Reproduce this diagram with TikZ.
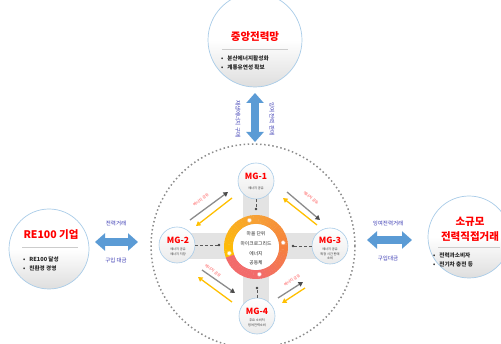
\documentclass[tikz,border=0pt]{standalone}
\usepackage{fontspec}
\setmainfont{Noto Sans CJK KR}
\usetikzlibrary{arrows.meta}
\definecolor{bblue}{HTML}{5B9BD5}
\definecolor{cborder}{HTML}{A9CCE8}
\definecolor{tred}{HTML}{FF0000}
\definecolor{lblue}{HTML}{3C3CB4}
\definecolor{ryel}{HTML}{FFC000}
\definecolor{rorg}{HTML}{F7A035}
\definecolor{rored}{HTML}{F5803E}
\definecolor{rsal}{HTML}{F26B6B}
\definecolor{bandc}{HTML}{E3E3E3}
\definecolor{garrow}{HTML}{8C8C8C}
\definecolor{yarrow}{HTML}{FFC000}
\definecolor{lred}{HTML}{FF4B4B}
\begin{document}
\begin{tikzpicture}[x=1pt,y=1pt,
  bigcirc/.style={circle, draw=cborder, line width=0.7pt, top color=white, bottom color=black!13, middle color=white, minimum size=#1, inner sep=0pt},
  mgc/.style={circle, draw=cborder, line width=0.6pt, top color=white, bottom color=black!8, minimum size=36pt, inner sep=0pt},
  ttl/.style={text=tred, font=\fontsize{10.5}{14.5}\selectfont\bfseries, inner sep=0pt, align=center},
  bul/.style={font=\fontsize{5.6}{9}\selectfont\bfseries, text=black!85, align=left, inner sep=0pt, anchor=west},
  albl/.style={text=lblue, font=\fontsize{5.5}{6.5}\selectfont, inner sep=0pt},
  mgt/.style={text=tred, font=\fontsize{8.5}{10}\selectfont\bfseries, inner sep=0pt},
  mgs/.style={font=\fontsize{3.2}{4.4}\selectfont, text=black!80, align=center, inner sep=0pt},
  elbl/.style={text=lred, font=\fontsize{3.8}{4.5}\selectfont, inner sep=0pt},
  bigarr/.style={draw=bblue, line width=8pt, {Triangle[width=17pt,length=10pt]}-{Triangle[width=17pt,length=10pt]}},
  garr/.style={draw=garrow, line width=1.3pt, -{Triangle[width=5pt,length=4.5pt,color=black!70]}},
  yarr/.style={draw=yarrow, line width=1.3pt, -{Triangle[width=5pt,length=4.5pt]}},
  sep/.style={draw=black!20, line width=0.4pt},
  conn/.style={draw=black!65, densely dashed, line width=0.4pt},
  cdot/.style={fill=black!75}
]
\useasboundingbox (0,0) rectangle (501,343);
\fill[white] (0,0) rectangle (501,343);

% big dotted circle
\draw[draw=black!45, line width=1.5pt, dash pattern=on 1.5pt off 2.6pt] (253,97) circle (102);

% gray cross bands
\fill[bandc] (177,84) rectangle (330,110);
\fill[bandc] (243,27) rectangle (269,162);

% outer circles
\node[bigcirc=94pt] (grid) at (255,303) {};
\node[ttl] (gridt) at (255,306) {중앙전력망};
\draw[sep] (222,294) -- (288,294);
\node[bul] (gridb) at (221,280.5) {•\hspace{4pt}분산에너지활성화\\•\hspace{4pt}계통유연성 확보};

\node[bigcirc=80pt] (re) at (49,94) {};
\node[ttl] (ret) at (51,108) {RE100 기업};
\draw[sep] (22,96) -- (78,96);
\node[bul] (reb) at (23,79) {•\hspace{4pt}RE100 달성\\•\hspace{4pt}친환경 경영};

\node[bigcirc=82pt] (sm) at (469,106) {};
\node[ttl] (smt) at (470,113.5) {소규모\\전력직접거래};
\draw[sep] (438,96) -- (500,96);
\node[bul] (smb) at (433,83) {•\hspace{4pt}전력과소비자\\•\hspace{4pt}전기차 충전 등};

% blue double arrows
\coordinate (va) at (255,250);
\coordinate (vb) at (255,201);
\draw[bigarr] (va) -- (vb);
\node[albl, rotate=-90] (vl) at (238,224) {재생에너지 구매};
\node[albl, rotate=-90] (vr) at (272,224) {잉여 전력 판매};

\coordinate (la) at (95,101);
\coordinate (lb) at (138,101);
\draw[bigarr] (la) -- (lb);
\node[albl] (ll1) at (116,120) {전력거래};
\node[albl] (ll2) at (116,83) {구입 대금};

\coordinate (ra) at (367,103);
\coordinate (rb) at (412,103);
\draw[bigarr] (ra) -- (rb);
\node[albl] (rl1) at (388,120) {잉여전력거래};
\node[albl] (rl2) at (388,85) {구입대금};

% ring
\begin{scope}[shift={(256,96)}]
\foreach \a [evaluate=\a as \p using {int((200-\a)/105*100)}] in {200,195,...,95}
  \fill[rorg!\p!ryel] (\a:32) arc[start angle=\a, end angle=\a-5.6, radius=32] -- (\a-5.6:23) arc[start angle=\a-5.6, end angle=\a, radius=23] -- cycle;
\foreach \a [evaluate=\a as \p using {int((90-\a)/90*100)}] in {90,85,...,5}
  \fill[rored!\p!rorg] (\a:32) arc[start angle=\a, end angle=\a-5.6, radius=32] -- (\a-5.6:23) arc[start angle=\a-5.6, end angle=\a, radius=23] -- cycle;
\foreach \a [evaluate=\a as \p using {int(min(100,(0-\a)/80*100))}] in {0,-5,...,-155}
  \fill[rsal!\p!rored] (\a:32) arc[start angle=\a, end angle=\a-5.6, radius=32] -- (\a-5.6:23) arc[start angle=\a-5.6, end angle=\a, radius=23] -- cycle;
\foreach \a/\c in {104/rorg, 9/rored, 193/ryel, -83/rsal}
  \filldraw[fill=white, draw=\c!70!white, line width=0.5pt] (\a:27.5) circle (2.1);
\end{scope}
\node[circle, fill=white, minimum size=46pt, inner sep=0pt] (ring) at (256,96) {};
\node[font=\fontsize{4.8}{9.6}\selectfont, text=black!85, align=center, inner sep=0pt] (ringt) at (256,94.5) {마을 단위\\마이크로그리드\\에너지\\공동체};

% MG nodes
\node[mgc] (mg1) at (256,162) {};
\node[mgt] (mg1t) at (256,167) {MG-1};
\node[mgs] (mg1s) at (256,155) {에너지 공유};

\node[mgc] (mg2) at (177,98) {};
\node[mgt] (mg2t) at (178,103) {MG-2};
\node[mgs] (mg2s) at (178,91) {에너지 공유\\에너지 저장};

\node[mgc] (mg3) at (330,97) {};
\node[mgt] (mg3t) at (330,103) {MG-3};
\node[mgs] (mg3s) at (330,89) {에너지 공유\\특정 시간 판매\\소비};

\node[mgc] (mg4) at (257,27) {};
\node[mgt] (mg4t) at (257,32) {MG-4};
\node[mgs] (mg4s) at (257,20) {주요 소비처\\잉여전력소비};

% dashed connectors with dots
\coordinate (d1) at (256,134);
\coordinate (d2) at (219,98);
\coordinate (d3) at (293,97);
\coordinate (d4) at (257,55);
\draw[conn] (mg1) -- (d1);
\draw[conn] (mg2) -- (d2);
\draw[conn] (mg3) -- (d3);
\draw[conn] (mg4) -- (d4);
\foreach \d in {d1,d2,d3,d4} \fill[cdot] (\d) circle (1.3);

% diagonal arrows
\coordinate (g1a) at (190,123); \coordinate (g1b) at (228,151);
\coordinate (y1a) at (232,145); \coordinate (y1b) at (196,117);
\coordinate (g2a) at (287,151); \coordinate (g2b) at (320,123);
\coordinate (y2a) at (317,118); \coordinate (y2b) at (283,145);
\coordinate (g3a) at (202,73);  \coordinate (g3b) at (235,50);
\coordinate (y3a) at (232,41);  \coordinate (y3b) at (198,66);
\coordinate (g4a) at (278,45);  \coordinate (g4b) at (303,61);
\coordinate (y4a) at (305,55);  \coordinate (y4b) at (282,40);
\draw[garr] (g1a) -- (g1b);
\draw[yarr] (y1a) -- (y1b);
\draw[garr] (g2a) -- (g2b);
\draw[yarr] (y2a) -- (y2b);
\draw[garr] (g3a) -- (g3b);
\draw[yarr] (y3a) -- (y3b);
\draw[garr] (g4a) -- (g4b);
\draw[yarr] (y4a) -- (y4b);
\node[elbl, rotate=36] (e1) at (201,143) {에너지 공유};
\node[elbl, rotate=-40] (e2) at (311,145) {에너지 공유};
\node[elbl, rotate=-35] (e3) at (213,72) {에너지 공유};
\node[elbl, rotate=33] (e4) at (292,63) {에너지 공유};
\end{tikzpicture}
\end{document}
